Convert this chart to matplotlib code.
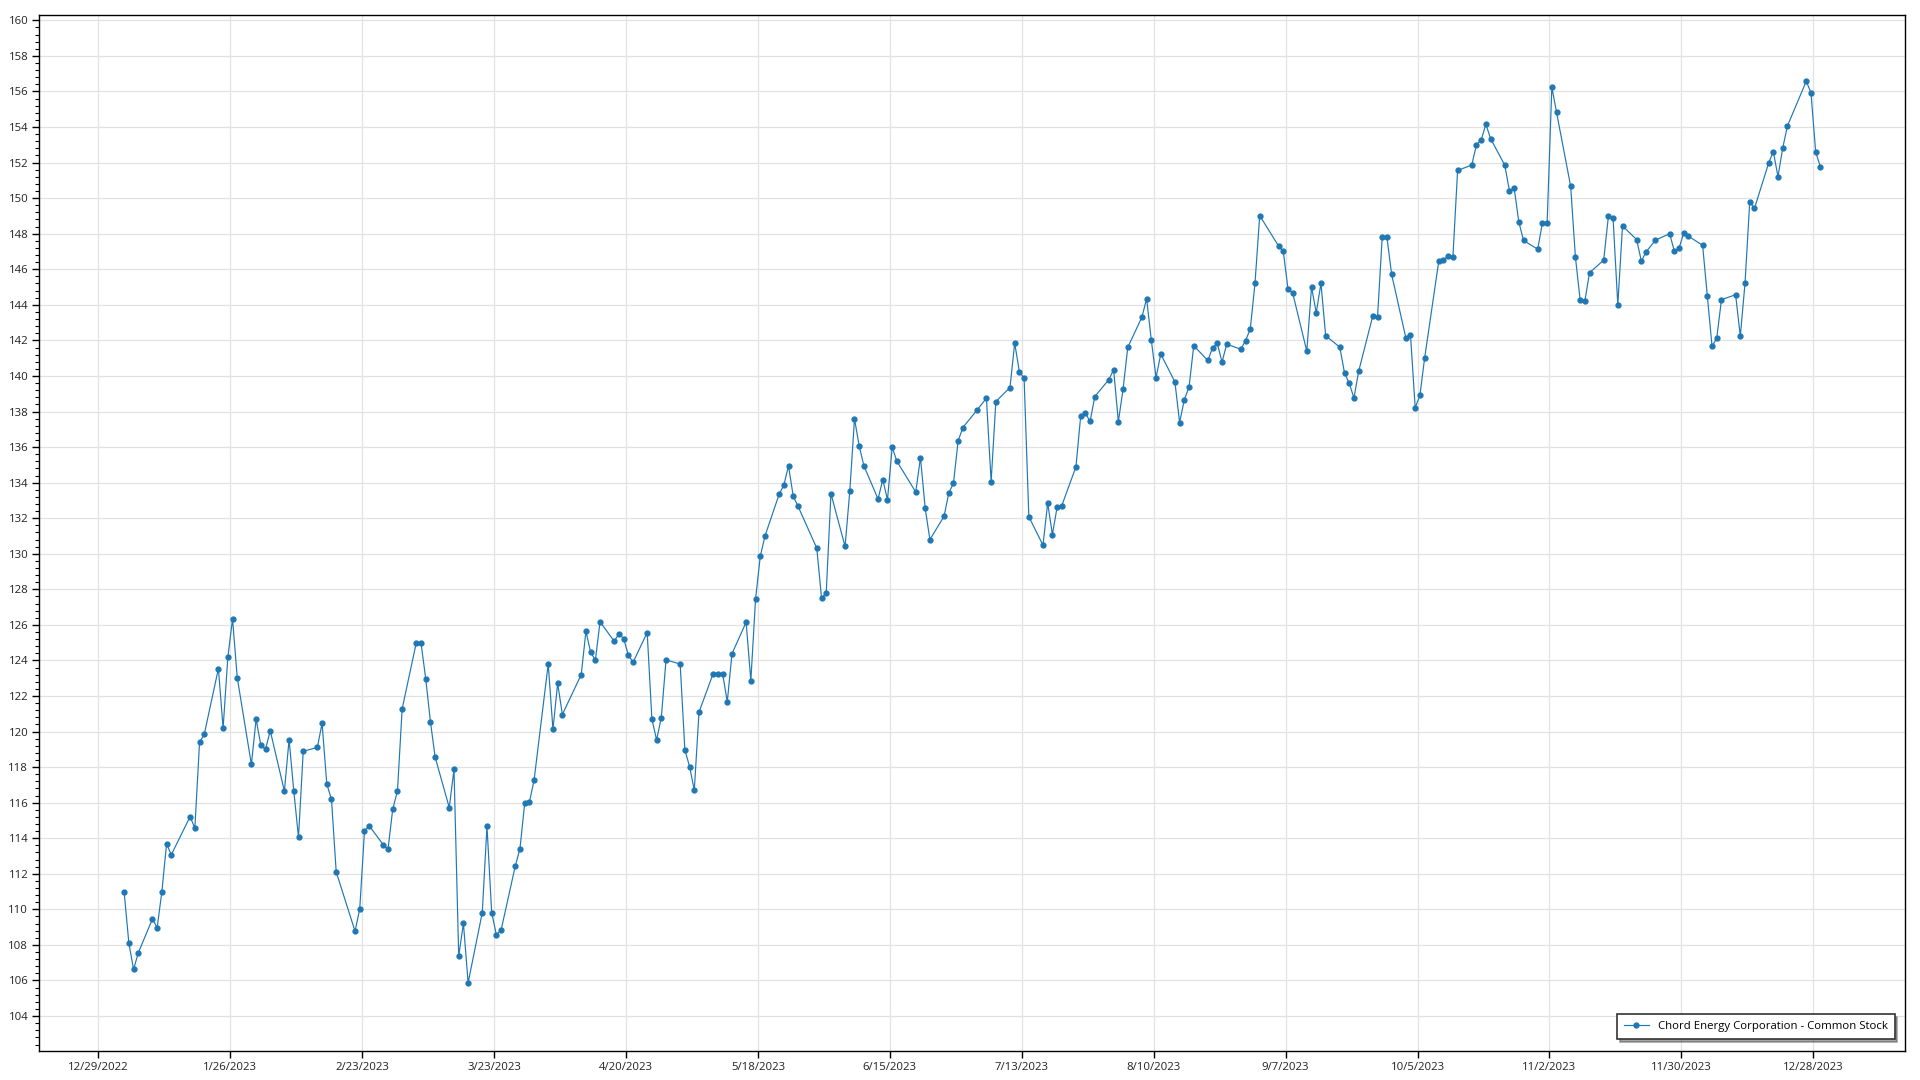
import matplotlib
matplotlib.use("Agg")
import matplotlib.pyplot as plt
import matplotlib.dates as mdates
from matplotlib.ticker import MultipleLocator, FixedLocator
import pandas as pd

plt.rcParams['font.family'] = ['Open Sans', 'DejaVu Sans']

# NYSE closed days in 2023 (besides weekends)
market_holidays = ['2023-01-02', '2023-01-16', '2023-02-20', '2023-04-07', '2023-05-29',
                   '2023-06-19', '2023-07-04', '2023-09-04', '2023-11-23', '2023-12-25']

price_jan = [110.95, 108.09, 106.62, 107.56, 109.46, 108.97, 111.00, 113.68, 113.07, 115.22,
             114.56, 119.40, 119.85, 123.54, 120.19, 124.17, 126.34, 123.03, 118.15, 120.69]
price_feb = [119.25, 119.00, 120.05, 116.65, 119.55, 116.65, 114.05, 118.89, 119.11, 120.47,
             117.06, 116.18, 112.11, 108.77, 110.04, 114.38, 114.70, 113.63, 113.39]
price_mar = [115.64, 116.66, 121.28, 125.00, 124.98, 122.97, 120.55, 118.56, 115.72, 117.88,
             107.37, 109.21, 105.87, 109.82, 114.68, 109.82, 108.56, 108.84, 112.43, 113.41,
             115.96, 116.02, 117.28]
price_apr = [123.80, 120.12, 122.71, 120.96, 123.20, 125.64, 124.46, 124.01, 126.17, 125.08,
             125.49, 125.23, 124.31, 123.89, 125.57, 120.70, 119.53, 120.79, 124.03]
price_may = [123.80, 118.97, 118.03, 116.70, 121.09, 123.26, 123.26, 123.26, 121.68, 124.38,
             126.15, 122.86, 127.45, 129.85, 131.00, 133.34, 133.86, 134.94, 133.23, 132.68,
             130.31, 127.51]
price_jun = [127.79, 133.38, 130.41, 133.51, 137.59, 136.06, 134.94, 133.08, 134.17, 133.04,
             135.99, 135.20, 133.47, 135.41, 132.57, 130.80, 132.10, 133.41, 133.96, 136.35,
             137.10]
price_jul = [138.08, 138.75, 134.05, 138.56, 139.35, 141.85, 140.23, 139.86, 132.09, 130.48,
             132.85, 131.08, 132.62, 132.71, 134.89, 137.73, 137.90, 137.45, 138.84, 139.80]
price_aug = [140.35, 137.43, 139.26, 141.61, 143.31, 144.35, 142.00, 139.91, 141.23, 139.67,
             137.38, 138.67, 139.37, 141.70, 140.87, 141.59, 141.83, 140.78, 141.79, 141.50,
             141.99, 142.65, 145.21]
price_sep = [149.02, 147.31, 147.01, 144.91, 144.66, 141.39, 145.00, 143.55, 145.21, 142.26,
             141.62, 140.17, 139.59, 138.76, 140.26, 143.38, 143.29, 147.82, 147.80, 145.71]
price_oct = [142.16, 142.31, 138.21, 138.91, 141.00, 146.45, 146.52, 146.75, 146.67, 151.56,
             151.86, 153.01, 153.26, 154.16, 153.35, 151.86, 150.42, 150.57, 148.65, 147.62,
             147.13, 148.61]
price_nov = [148.61, 156.24, 154.83, 150.66, 146.69, 144.29, 144.20, 145.81, 146.51, 148.97,
             148.86, 143.99, 148.44, 147.67, 146.45, 146.98, 147.64, 148.00, 147.02, 147.19,
             148.05]
price_dec = [147.86, 147.35, 144.50, 141.66, 142.13, 144.29, 144.57, 142.24, 145.21, 149.80,
             149.42, 151.96, 152.62, 151.21, 152.82, 154.06, 156.58, 155.92, 152.58, 151.77]

prices = (price_jan + price_feb + price_mar + price_apr + price_may + price_jun +
          price_jul + price_aug + price_sep + price_oct + price_nov + price_dec)
# points sit about half a day right of the date ticks in the original
dates = pd.bdate_range('2023-01-03', '2023-12-29', freq='C', holidays=market_holidays) + pd.Timedelta(hours=12)

tick_dates = pd.date_range('2022-12-29', periods=14, freq='28D')
tick_labels = [f"{d.month}/{d.day}/{d.year}" for d in tick_dates]

fig = plt.figure(figsize=(19.2, 10.8), dpi=100)
ax = fig.add_axes([0.0205, 0.0271, 0.9717, 0.9590])

ax.plot(dates, prices, color='#1f77b4', lw=0.85, marker='o', markersize=3.5,
        label='Chord Energy Corporation - Common Stock')

ax.set_xlim(pd.Timestamp('2022-12-16 12:00'), pd.Timestamp('2024-01-16 11:00'))
ax.set_ylim(102.05, 160.3)

ax.xaxis.set_major_locator(FixedLocator(mdates.date2num(tick_dates)))
ax.set_xticklabels(tick_labels)
ax.yaxis.set_major_locator(MultipleLocator(2))
ax.yaxis.set_minor_locator(MultipleLocator(0.4))

ax.grid(True, which='major', color='#e2e2e2', lw=0.9)
ax.set_axisbelow(True)
for s in ax.spines.values():
    s.set_color('black')
    s.set_linewidth(1.0)
ax.tick_params(axis='both', which='major', length=5, width=1, labelsize=8.2,
               colors='black', labelcolor='#222222', pad=3)
ax.tick_params(axis='y', which='minor', length=3, width=0.8)

leg = ax.legend(loc='lower right', fontsize=8.2, frameon=True, fancybox=False, shadow=True,
                edgecolor='#333333', borderpad=0.6, handlelength=2.2,
                bbox_to_anchor=(0.9975, 0.006))
leg.get_frame().set_linewidth(1.2)

fig.savefig('out.png', dpi=100, facecolor='white')
